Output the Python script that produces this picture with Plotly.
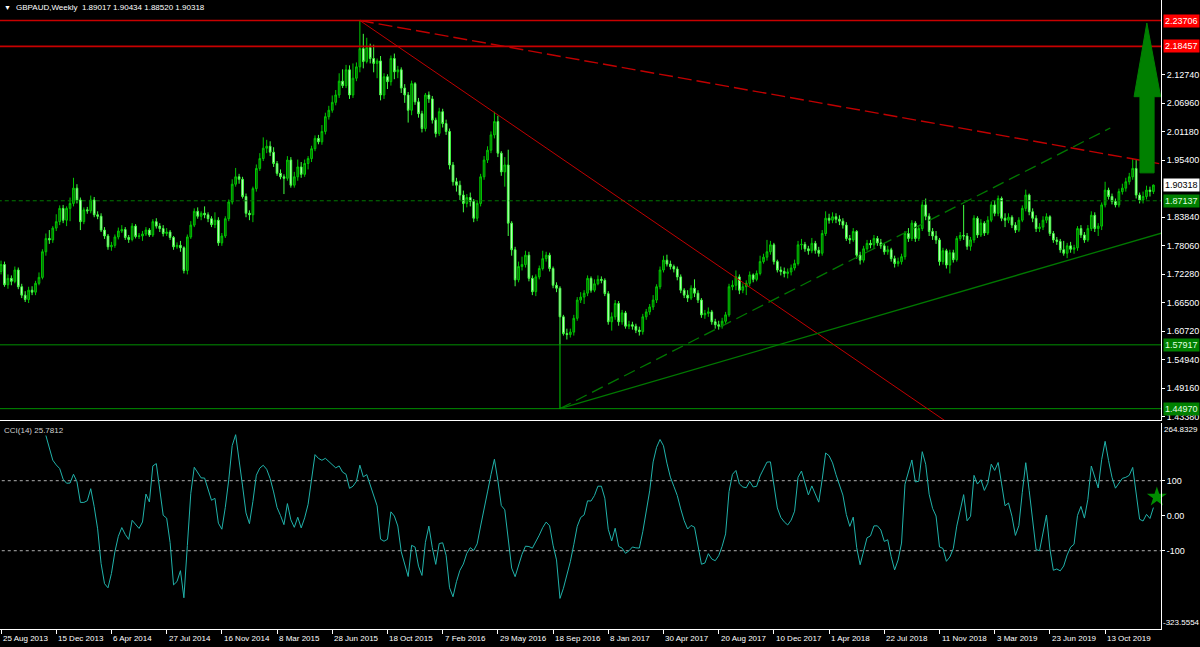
import numpy as np
import pandas as pd
import plotly.graph_objects as go

# ---------------- data (weekly GBPAUD) ----------------
start_date = "2013-08-25"
first_open = 1.728
closes = [
 1.742,1.701,1.714,1.708,1.731,1.697,1.680,1.671,1.690,1.686,
 1.704,1.716,1.768,1.795,1.792,1.816,1.829,1.856,1.832,1.856,
 1.866,1.897,1.873,1.829,1.853,1.851,1.873,1.843,1.840,1.812,
 1.800,1.778,1.781,1.798,1.810,1.813,1.797,1.793,1.820,1.799,
 1.800,1.804,1.812,1.802,1.829,1.820,1.815,1.805,1.808,1.797,
 1.778,1.781,1.776,1.730,1.798,1.822,1.850,1.840,1.846,1.843,
 1.835,1.823,1.832,1.786,1.800,1.835,1.869,1.905,1.920,1.915,
 1.880,1.846,1.843,1.896,1.937,1.957,1.978,1.982,1.970,1.947,
 1.927,1.920,1.917,1.954,1.903,1.920,1.940,1.925,1.947,1.957,
 1.977,1.998,1.991,2.012,2.042,2.055,2.071,2.086,2.114,2.105,
 2.137,2.086,2.120,2.143,2.180,2.154,2.182,2.160,2.150,2.155,
 2.086,2.123,2.113,2.160,2.133,2.137,2.100,2.086,2.055,2.109,
 2.072,2.048,2.018,2.086,2.078,2.035,2.008,2.052,2.028,2.012,
 1.944,1.910,1.903,1.883,1.866,1.878,1.870,1.836,1.866,1.920,
 1.954,1.974,2.005,2.032,1.968,1.930,1.944,1.826,1.772,1.711,
 1.738,1.742,1.761,1.714,1.687,1.717,1.734,1.754,1.761,1.734,
 1.700,1.694,1.636,1.602,1.600,1.605,1.633,1.670,1.676,1.684,
 1.714,1.690,1.703,1.712,1.710,1.683,1.626,1.636,1.663,1.626,
 1.644,1.617,1.620,1.617,1.609,1.606,1.636,1.646,1.656,1.670,
 1.697,1.731,1.751,1.743,1.738,1.733,1.717,1.690,1.680,1.674,
 1.694,1.684,1.670,1.640,1.643,1.646,1.626,1.620,1.617,1.627,
 1.640,1.697,1.700,1.717,1.690,1.697,1.704,1.721,1.712,1.724,
 1.748,1.757,1.768,1.782,1.748,1.731,1.728,1.724,1.727,1.735,
 1.744,1.782,1.783,1.774,1.770,1.785,1.771,1.765,1.805,1.836,
 1.832,1.839,1.834,1.830,1.822,1.795,1.792,1.809,1.761,1.751,
 1.774,1.785,1.782,1.795,1.786,1.780,1.768,1.772,1.754,1.744,
 1.748,1.758,1.805,1.795,1.826,1.795,1.815,1.863,1.840,1.809,
 1.800,1.792,1.748,1.770,1.741,1.766,1.752,1.795,1.801,1.800,
 1.779,1.792,1.836,1.802,1.826,1.806,1.832,1.863,1.846,1.876,
 1.836,1.832,1.838,1.822,1.812,1.832,1.856,1.883,1.849,1.836,
 1.815,1.818,1.832,1.839,1.805,1.792,1.789,1.772,1.765,1.780,
 1.773,1.776,1.815,1.802,1.792,1.815,1.842,1.815,1.820,1.863,
 1.893,1.880,1.870,1.863,1.890,1.897,1.910,1.920,1.937,1.883,
 1.873,1.880,1.893,1.89017,1.90318]
highs = [
 1.750,1.748,1.722,1.720,1.738,1.736,1.703,1.688,1.697,1.698,
 1.709,1.726,1.773,1.805,1.812,1.820,1.844,1.862,1.863,1.860,
 1.878,1.918,1.905,1.878,1.858,1.859,1.882,1.879,1.850,1.846,
 1.818,1.804,1.788,1.803,1.817,1.822,1.818,1.802,1.826,1.824,
 1.806,1.810,1.818,1.816,1.834,1.836,1.826,1.822,1.816,1.812,
 1.800,1.787,1.790,1.779,1.803,1.830,1.856,1.858,1.850,1.860,
 1.848,1.840,1.848,1.838,1.806,1.840,1.874,1.915,1.938,1.926,
 1.920,1.886,1.852,1.900,1.945,1.968,2.000,1.995,1.992,1.980,
 1.952,1.935,1.925,1.962,1.960,1.930,1.955,1.950,1.955,1.962,
 1.983,2.004,2.005,2.025,2.050,2.064,2.085,2.096,2.130,2.138,
 2.147,2.146,2.150,2.152,2.23706,2.210,2.202,2.190,2.188,2.160,
 2.165,2.130,2.128,2.166,2.170,2.145,2.142,2.108,2.092,2.115,
 2.112,2.080,2.054,2.090,2.093,2.084,2.040,2.060,2.058,2.036,
 2.018,1.950,1.918,1.912,1.892,1.885,1.888,1.875,1.872,1.926,
 1.962,1.982,2.012,2.052,2.044,1.972,1.960,1.975,1.830,1.778,
 1.748,1.758,1.770,1.768,1.720,1.722,1.740,1.770,1.768,1.766,
 1.738,1.706,1.698,1.640,1.612,1.612,1.640,1.676,1.686,1.690,
 1.720,1.718,1.712,1.720,1.718,1.714,1.688,1.645,1.670,1.668,
 1.650,1.648,1.628,1.626,1.622,1.616,1.642,1.652,1.662,1.680,
 1.702,1.738,1.760,1.762,1.750,1.742,1.738,1.722,1.694,1.690,
 1.700,1.712,1.690,1.674,1.650,1.655,1.650,1.632,1.628,1.634,
 1.646,1.703,1.710,1.730,1.722,1.704,1.710,1.728,1.724,1.730,
 1.760,1.764,1.792,1.790,1.786,1.752,1.738,1.736,1.734,1.742,
 1.752,1.790,1.794,1.788,1.780,1.796,1.790,1.778,1.812,1.850,
 1.845,1.848,1.846,1.842,1.836,1.828,1.802,1.816,1.812,1.768,
 1.780,1.792,1.792,1.802,1.800,1.794,1.786,1.780,1.776,1.760,
 1.756,1.764,1.810,1.816,1.832,1.830,1.822,1.870,1.876,1.846,
 1.816,1.810,1.796,1.776,1.774,1.772,1.772,1.800,1.808,1.863,
 1.806,1.798,1.842,1.840,1.834,1.830,1.840,1.870,1.872,1.882,
 1.880,1.846,1.846,1.842,1.828,1.838,1.862,1.894,1.886,1.856,
 1.842,1.826,1.840,1.846,1.842,1.810,1.798,1.794,1.790,1.786,
 1.788,1.782,1.820,1.822,1.808,1.822,1.850,1.848,1.826,1.868,
 1.910,1.898,1.886,1.876,1.896,1.906,1.918,1.928,1.956,1.954,
 1.888,1.890,1.902,1.900,1.90434]
lows = [
 1.722,1.697,1.693,1.700,1.704,1.692,1.674,1.666,1.664,1.680,
 1.680,1.700,1.712,1.760,1.784,1.786,1.810,1.822,1.826,1.820,
 1.830,1.860,1.866,1.812,1.824,1.845,1.846,1.838,1.834,1.808,
 1.794,1.772,1.770,1.776,1.793,1.806,1.792,1.786,1.789,1.795,
 1.794,1.790,1.800,1.798,1.798,1.815,1.808,1.799,1.800,1.792,
 1.772,1.774,1.768,1.724,1.722,1.794,1.818,1.835,1.832,1.836,
 1.828,1.818,1.816,1.780,1.780,1.796,1.830,1.864,1.900,1.906,
 1.876,1.838,1.832,1.828,1.890,1.932,1.952,1.968,1.962,1.940,
 1.922,1.915,1.885,1.912,1.898,1.898,1.912,1.918,1.920,1.935,
 1.950,1.972,1.986,1.985,2.006,2.036,2.050,2.065,2.080,2.100,
 2.100,2.078,2.080,2.114,2.132,2.140,2.150,2.150,2.132,2.120,
 2.075,2.078,2.098,2.105,2.118,2.120,2.090,2.070,2.030,2.045,
 2.066,2.040,2.010,2.012,2.070,2.028,2.000,2.003,2.020,2.005,
 1.935,1.902,1.890,1.873,1.848,1.858,1.860,1.828,1.830,1.860,
 1.914,1.948,1.968,1.998,1.960,1.922,1.900,1.800,1.760,1.698,
 1.706,1.730,1.736,1.708,1.680,1.678,1.712,1.730,1.748,1.728,
 1.694,1.686,1.579,1.598,1.590,1.594,1.598,1.628,1.664,1.662,
 1.678,1.685,1.686,1.700,1.704,1.678,1.620,1.608,1.630,1.618,
 1.620,1.612,1.611,1.610,1.603,1.598,1.600,1.630,1.640,1.650,
 1.664,1.692,1.726,1.738,1.732,1.726,1.710,1.684,1.674,1.666,
 1.670,1.676,1.664,1.634,1.632,1.636,1.620,1.612,1.610,1.612,
 1.622,1.636,1.690,1.690,1.682,1.684,1.680,1.698,1.706,1.708,
 1.720,1.744,1.750,1.762,1.742,1.726,1.720,1.716,1.714,1.720,
 1.730,1.740,1.772,1.768,1.762,1.765,1.764,1.758,1.760,1.800,
 1.825,1.826,1.826,1.822,1.815,1.790,1.784,1.788,1.754,1.742,
 1.746,1.770,1.775,1.776,1.780,1.774,1.762,1.762,1.748,1.736,
 1.738,1.742,1.752,1.788,1.790,1.788,1.790,1.810,1.832,1.800,
 1.792,1.784,1.740,1.742,1.734,1.724,1.746,1.748,1.790,1.792,
 1.772,1.770,1.786,1.796,1.798,1.800,1.802,1.828,1.840,1.840,
 1.830,1.818,1.826,1.816,1.806,1.808,1.828,1.850,1.842,1.828,
 1.808,1.808,1.812,1.826,1.800,1.786,1.782,1.766,1.760,1.755,
 1.766,1.764,1.770,1.796,1.786,1.788,1.810,1.808,1.800,1.812,
 1.858,1.874,1.864,1.858,1.858,1.884,1.890,1.904,1.914,1.876,
 1.866,1.866,1.874,1.880,1.88520]

opens = [first_open] + closes[:-1]
n = len(closes)
bar_idx = list(range(n))
dates = pd.date_range(start_date, periods=n, freq="7D")
label_step = 16
label_idx = list(range(0, n, label_step))
label_text = [f"{dates[i].day} {dates[i].strftime('%b %Y')}" for i in label_idx]

# horizontal levels and drawn lines (bar index, price)
red_levels = [2.23706, 2.18457]
green_levels = [1.57917, 1.44970]
dashed_level = 1.87137
red_solid_x, red_solid_y = [104, 290], [2.23706, 1.3467]
red_dash_x, red_dash_y = [104, 336.5], [2.23706, 1.9457]
green_solid_x, green_solid_y = [162, 336.5], [1.44970, 1.8062]
green_dash_x, green_dash_y = [162, 321.5], [1.44970, 2.0190]
green_vert_x, green_vert_y = [162, 162], [1.44970, 1.57917]
arrow_x = [332.1, 336.1, 334.2, 334.2, 330.1, 330.1, 328.4, 332.1]
arrow_y = [2.232, 2.0825, 2.0825, 1.928, 1.928, 2.0825, 2.0825, 2.232]
star_x, star_y = [335.0], [53.4]

main_ticks = [2.12740, 2.06960, 2.01180, 1.95400, 1.83840, 1.78060,
              1.72280, 1.66500, 1.60720, 1.54940, 1.49160, 1.43380]
cci_min, cci_max = -323.5554, 264.8329
cci_levels = [100, -100]

# ---------------- CCI(14) on typical price ----------------
H, L, C = np.array(highs), np.array(lows), np.array(closes)
tp = pd.Series((H + L + C) / 3.0)
sma = tp.rolling(14).mean()
md = tp.rolling(14).apply(lambda v: np.mean(np.abs(v - v.mean())), raw=True)
cci = ((tp - sma) / (0.015 * md)).values

# ---------------- figure ----------------
FONT = "Liberation Sans"
XR = [-0.3, 336.2]
fig = go.Figure()

fig.add_trace(go.Candlestick(
    x=bar_idx, open=opens, high=highs, low=lows, close=closes,
    xaxis="x2", yaxis="y2",
    increasing=dict(line=dict(color="#00c800", width=1), fillcolor="#006000"),
    decreasing=dict(line=dict(color="#40ff40", width=1), fillcolor="#e8ffe8"),
    whiskerwidth=0, showlegend=False, hoverinfo="skip"))

def line(xs, ys, color, width=1, dash="solid", ax=("x2", "y2")):
    fig.add_trace(go.Scatter(x=xs, y=ys, mode="lines", xaxis=ax[0], yaxis=ax[1],
                             line=dict(color=color, width=width, dash=dash),
                             showlegend=False, hoverinfo="skip"))

for lv in red_levels:
    line([-5, 345], [lv, lv], "#c80000", 1.6)
for lv in green_levels:
    line([-5, 345], [lv, lv], "#009000", 1)
line([-5, 345], [dashed_level, dashed_level], "#007a00", 1, "4px,3px")
line(red_solid_x, red_solid_y, "#c00000", 1)
line(red_dash_x, red_dash_y, "#c00000", 1.4, "14px,5px")
line(green_solid_x, green_solid_y, "#007800", 1.3)
line(green_dash_x, green_dash_y, "#007800", 1.3, "12px,6px")
line(green_vert_x, green_vert_y, "#00b000", 1.2)

fig.add_trace(go.Scatter(x=arrow_x, y=arrow_y, mode="lines", fill="toself",
                         fillcolor="#008000", line=dict(color="#008000", width=1),
                         xaxis="x2", yaxis="y2", showlegend=False, hoverinfo="skip"))

# CCI panel
for lv in cci_levels:
    line([-5, 345], [lv, lv], "#b0b0b0", 1, "3px,3px", ("x", "y"))
fig.add_trace(go.Scatter(x=bar_idx, y=cci, mode="lines", xaxis="x", yaxis="y",
                         line=dict(color="#20b2aa", width=1),
                         showlegend=False, hoverinfo="skip"))
fig.add_trace(go.Scatter(x=star_x, y=star_y, mode="markers", xaxis="x", yaxis="y",
                         marker=dict(symbol="star", size=15, color="#008c00"),
                         showlegend=False, hoverinfo="skip", cliponaxis=False))

ann = []
# header texts
ann.append(dict(xref="paper", yref="paper", x=0.002, y=1, yshift=-2, xanchor="left",
                yanchor="top", showarrow=False, text="▼",
                font=dict(family=FONT, size=7, color="white")))
ann.append(dict(xref="paper", yref="paper", x=0.012, y=1, yshift=-1, xanchor="left",
                yanchor="top", showarrow=False,
                text="GBPAUD,Weekly  1.89017 1.90434 1.88520 1.90318",
                font=dict(family=FONT, size=8, color="white")))
ann.append(dict(xref="paper", yref="y", x=0.002, y=cci_max, yshift=-1, xanchor="left",
                yanchor="top", showarrow=False, text="CCI(14) 25.7812",
                font=dict(family=FONT, size=8, color="#d0d0d0")))
# date labels
for i, t in zip(label_idx, label_text):
    ann.append(dict(xref="x", yref="paper", x=i, y=0, yshift=-3, xanchor="left",
                    yanchor="top", showarrow=False, text=t,
                    font=dict(family=FONT, size=8, color="white")))
# price boxes on right axis
def box(val, txt, bg, fg):
    ann.append(dict(xref="paper", yref="y2", x=1, xshift=2, y=val, xanchor="left",
                    yanchor="middle", showarrow=False, text=txt, bgcolor=bg,
                    borderpad=1, font=dict(family=FONT, size=9, color=fg)))
box(red_levels[0], "2.23706", "#ff0000", "white")
box(red_levels[1], "2.18457", "#ff0000", "white")
box(closes[-1], "1.90318", "white", "black")
box(dashed_level, "1.87137", "#008000", "#e0ffe0")
box(green_levels[0], "1.57917", "#008000", "#e0ffe0")
box(green_levels[1], "1.44970", "#008000", "#e0ffe0")
# CCI extremes
ann.append(dict(xref="paper", yref="y", x=1, xshift=1, y=cci_max, xanchor="left",
                yanchor="top", showarrow=False, text="264.8329",
                font=dict(family=FONT, size=8, color="white")))
ann.append(dict(xref="paper", yref="y", x=1, xshift=0, y=cci_min, xanchor="left",
                yanchor="bottom", showarrow=False, text="-323.5554",
                font=dict(family=FONT, size=8, color="white")))

axis_common = dict(showgrid=False, zeroline=False, color="white")
fig.update_layout(
    width=1200, height=647,
    margin=dict(l=0, r=39, t=0, b=18, autoexpand=False),
    paper_bgcolor="black", plot_bgcolor="black",
    font=dict(family=FONT, size=9, color="white"),
    showlegend=False,
    xaxis=dict(domain=[0, 1], range=XR, anchor="y", showline=True, linecolor="white",
               linewidth=1, ticks="outside", tickvals=label_idx, ticklen=4,
               tickcolor="white", showticklabels=False, rangeslider=dict(visible=False),
               **axis_common),
    xaxis2=dict(domain=[0, 1], range=XR, anchor="y2", matches="x", showline=True,
                linecolor="white", linewidth=1, showticklabels=False, ticks="",
                rangeslider=dict(visible=False), **axis_common),
    yaxis=dict(domain=[0, 0.3275], range=[cci_min, cci_max], side="right", anchor="x",
               showline=True, linecolor="white", linewidth=1, ticks="outside",
               ticklen=3, tickcolor="white", tickvals=[100, 0, -100],
               ticktext=["100", "0.00", "-100"], tickfont=dict(size=9, color="white"),
               **axis_common),
    yaxis2=dict(domain=[0.33227, 1], range=[1.42671, 2.27864], side="right", anchor="x2",
                showline=True, linecolor="white", linewidth=1, ticks="outside",
                ticklen=3, tickcolor="white", tickvals=main_ticks,
                ticktext=[f"{v:.5f}" for v in main_ticks],
                tickfont=dict(size=9, color="white"), **axis_common),
    annotations=ann,
)

fig.write_html("out.html", config={"displayModeBar": False},
               post_script="document.body.style.margin='0';document.body.style.padding='0';"
                           "document.body.style.background='black';")
